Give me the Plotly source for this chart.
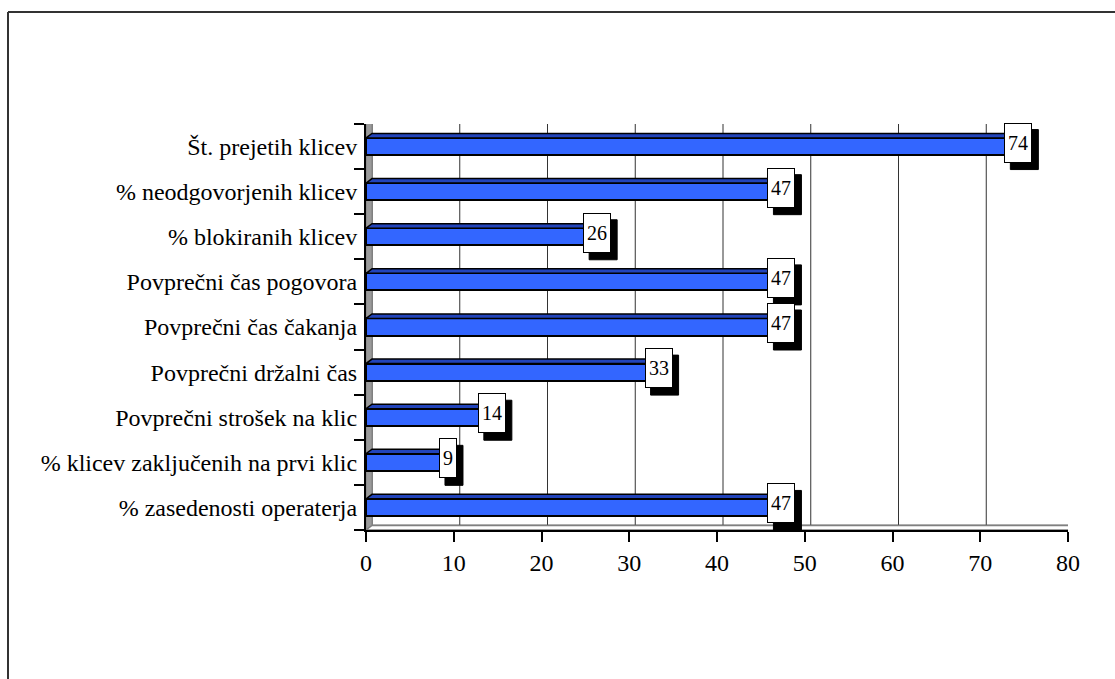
import plotly.graph_objects as go

categories = [
    "Št. prejetih klicev",
    "% neodgovorjenih klicev",
    "% blokiranih klicev",
    "Povprečni čas pogovora",
    "Povprečni čas čakanja",
    "Povprečni držalni čas",
    "Povprečni strošek na klic",
    "% klicev zaključenih na prvi klic",
    "% zasedenosti operaterja",
]
values = [74, 47, 26, 47, 47, 33, 14, 9, 47]
x_ticks = [0, 10, 20, 30, 40, 50, 60, 70, 80]

W, H = 1115, 679
L, R, T, B = 366, 47, 124, 149
PW, PH = W - L - R, H - T - B
FONT = "Liberation Serif"

n = len(categories)
ypos = list(range(n))
xmax = x_ticks[-1]
dx = 6 / (PW / xmax)        # depth offset in data units (x)
dy = 4.5 / (PH / n)         # depth offset in category units
bw = 0.38
half = bw / 2

shapes = []
ytop, ybot = -0.5, n - 0.5

# back wall
shapes.append(dict(type="path", xref="x", yref="y", layer="below",
                   path=f"M {dx},{ytop-dy} L {xmax+dx},{ytop-dy} L {xmax+dx},{ybot-dy} L {dx},{ybot-dy} Z",
                   fillcolor="white", line=dict(color="#808080", width=2)))
# gridlines on back wall
for t in x_ticks[1:-1]:
    shapes.append(dict(type="line", xref="x", yref="y", layer="below",
                       x0=t + dx, x1=t + dx, y0=ytop - dy, y1=ybot - dy,
                       line=dict(color="#333333", width=1)))
# left wall
shapes.append(dict(type="path", xref="x", yref="y", layer="below",
                   path=f"M 0,{ytop} L {dx},{ytop-dy} L {dx},{ybot-dy} L 0,{ybot} Z",
                   fillcolor="#9a9a9a", line=dict(color="#808080", width=1)))
# floor
shapes.append(dict(type="path", xref="x", yref="y", layer="below",
                   path=f"M 0,{ybot} L {dx},{ybot-dy} L {xmax+dx},{ybot-dy} L {xmax},{ybot} Z",
                   fillcolor="white", line=dict(color="#808080", width=1.5)))

# bar top & end faces
for i, v in zip(ypos, values):
    yt = i - half
    yb = i + half
    shapes.append(dict(type="path", xref="x", yref="y",
                       path=f"M 0,{yt} L {v},{yt} L {v+dx},{yt-dy} L {dx},{yt-dy} Z",
                       fillcolor="#2244BB", line=dict(color="black", width=1.5)))
    shapes.append(dict(type="path", xref="x", yref="y",
                       path=f"M {v},{yt} L {v+dx},{yt-dy} L {v+dx},{yb-dy} L {v},{yb} Z",
                       fillcolor="#1A3399", line=dict(color="black", width=1.5)))

# label shadows (pixel-sized rectangles anchored at bar ends)
LBL_H = 40
for i, v in zip(ypos, values):
    w = 10 * len(str(v)) + 8
    cx, cy = 3 + 6, 4 - 7
    shapes.append(dict(type="rect", xref="x", yref="y",
                       xsizemode="pixel", ysizemode="pixel", xanchor=v, yanchor=i,
                       x0=cx - w / 2, x1=cx + w / 2, y0=cy - LBL_H / 2, y1=cy + LBL_H / 2,
                       fillcolor="black", line=dict(color="black", width=1)))

# outer border (top and left lines)
def px_x(px):
    return (px - L) / PW

def px_y(py):
    return (H - B - py) / PH

shapes.append(dict(type="line", xref="paper", yref="paper",
                   x0=px_x(8), x1=px_x(W + 5), y0=px_y(12), y1=px_y(12),
                   line=dict(color="#333333", width=2)))
shapes.append(dict(type="line", xref="paper", yref="paper",
                   x0=px_x(8), x1=px_x(8), y0=px_y(12), y1=px_y(H + 5),
                   line=dict(color="#333333", width=2)))

fig = go.Figure()
fig.add_trace(go.Bar(
    x=values, y=ypos, orientation="h", width=bw,
    marker=dict(color="#3366FF", line=dict(color="black", width=2)),
    hoverinfo="skip", showlegend=False,
))

annotations = []
for i, v in zip(ypos, values):
    w = 10 * len(str(v)) + 8
    annotations.append(dict(x=v, y=i, xref="x", yref="y", text=str(v),
                            showarrow=False, xshift=3, yshift=4,
                            width=w - 2, height=LBL_H - 2,
                            font=dict(family=FONT, size=20, color="black"),
                            bgcolor="white", bordercolor="black", borderwidth=1, borderpad=0))

fig.update_layout(
    width=W, height=H,
    margin=dict(l=L, r=R, t=T, b=B, pad=0),
    paper_bgcolor="white", plot_bgcolor="rgba(0,0,0,0)",
    font=dict(family=FONT, color="black"),
    shapes=shapes, annotations=annotations,
    bargap=0,
    xaxis=dict(range=[0, xmax], tickvals=x_ticks, showgrid=False, zeroline=False,
               showline=True, linecolor="black", linewidth=2,
               ticks="outside", ticklen=10, tickwidth=2, tickcolor="black",
               tickfont=dict(family=FONT, size=24, color="black")),
    yaxis=dict(range=[ybot, ytop], tickvals=ypos, ticktext=categories,
               showgrid=False, zeroline=False,
               showline=True, linecolor="black", linewidth=2,
               ticks="", ticklabelstandoff=2,
               minor=dict(tickvals=[k - 0.5 for k in range(n + 1)], ticks="outside",
                          ticklen=10, tickwidth=2, tickcolor="black", showgrid=False),
               tickfont=dict(family=FONT, size=24, color="black")),
)

fig.write_html("out.html")
